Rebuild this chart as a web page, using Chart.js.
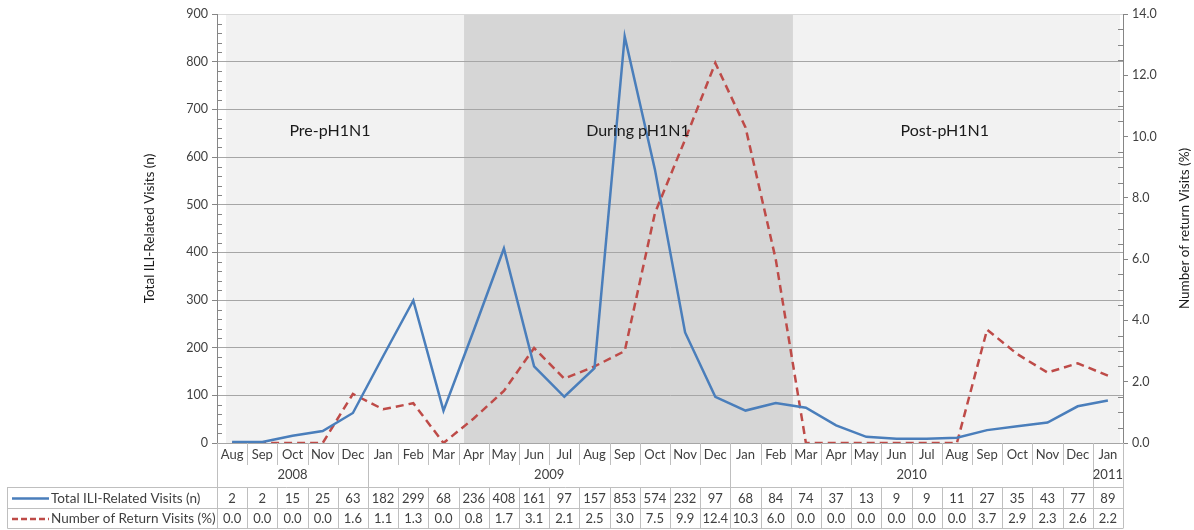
<!DOCTYPE html>
<html>
<head>
<meta charset="utf-8">
<script src="https://cdn.jsdelivr.net/npm/chart.js@4.4.0/dist/chart.umd.min.js"></script>
<style>
  html, body { margin: 0; padding: 0; background: #fff; }
  #wrap { width: 1194px; height: 530px; position: relative; }
</style>
</head>
<body>
<div id="wrap"><canvas id="chart" width="1194" height="530"></canvas></div>
<script>
/* ---------- data ---------- */
const months = ["Aug","Sep","Oct","Nov","Dec","Jan","Feb","Mar","Apr","May","Jun","Jul",
                "Aug","Sep","Oct","Nov","Dec","Jan","Feb","Mar","Apr","May","Jun","Jul",
                "Aug","Sep","Oct","Nov","Dec","Jan"];
const years = ["2008", "2009", "2010", "2011"];
const yearSpans = [5, 12, 12, 1];
const visits = [2, 2, 15, 25, 63, 182, 299, 68, 236, 408, 161, 97, 157, 853, 574, 232, 97,
                68, 84, 74, 37, 13, 9, 9, 11, 27, 35, 43, 77, 89];
const returnVisits = [0.0, 0.0, 0.0, 0.0, 1.6, 1.1, 1.3, 0.0, 0.8, 1.7, 3.1, 2.1, 2.5, 3.0, 7.5,
                      9.9, 12.4, 10.3, 6.0, 0.0, 0.0, 0.0, 0.0, 0.0, 0.0, 3.7, 2.9, 2.3, 2.6, 2.2];
const leftTicks = { min: 0, max: 900, step: 100, minor: 20 };
const rightTicks = { min: 0, max: 14, step: 2, minor: 0.5 };
const seriesNames = ["Total ILI-Related Visits (n)", "Number of Return Visits (%)"];
const axisTitles = ["Total ILI-Related Visits (n)", "Number of return Visits (%)"];
const periods = ["Pre-pH1N1", "During pH1N1", "Post-pH1N1"];

/* ---------- style ---------- */
const FONT = "Lato, 'Open Sans', sans-serif";
const BLUE = "#4a7ebb";
const RED = "#be4b48";
const TEXT = "#404040";
const LINE = "#bfbfbf";
// band edges & label spots in category units (0 = first month centre)
const lightBand = [-0.2, 29.4];
const darkBand = [7.68, 18.57];
const periodSpots = [3.24, 13.44, 23.6];
const periodValue = 654;

/* ---------- plugins ---------- */
function catX(chart, f) {
    const x = chart.scales.x;
    const p0 = x.getPixelForValue(0), p1 = x.getPixelForValue(1);
    return p0 + f * (p1 - p0);
}

const bandPlugin = {
    id: "bands",
    beforeDraw(chart) {
        const { ctx, chartArea: a } = chart;
        ctx.save();
        ctx.fillStyle = "#f2f2f2";
        ctx.fillRect(catX(chart, lightBand[0]), a.top, catX(chart, lightBand[1]) - catX(chart, lightBand[0]), a.bottom - a.top);
        ctx.fillStyle = "#d6d6d6";
        ctx.fillRect(catX(chart, darkBand[0]), a.top, catX(chart, darkBand[1]) - catX(chart, darkBand[0]), a.bottom - a.top);
        ctx.restore();
    },
    afterDatasetsDraw(chart) {
        const { ctx } = chart;
        ctx.save();
        ctx.fillStyle = "#1a1a1a";
        ctx.font = "16px " + FONT;
        ctx.textAlign = "center";
        ctx.textBaseline = "middle";
        const y = chart.scales.y.getPixelForValue(periodValue);
        periods.forEach((p, i) => ctx.fillText(p, catX(chart, periodSpots[i]), y));
        ctx.restore();
    }
};

const tablePlugin = {
    id: "table",
    afterDraw(chart) {
        const { ctx, chartArea: a } = chart;
        const yL = chart.scales.y, yR = chart.scales.y1;
        const n = months.length;
        const step = (a.right - a.left) / n;
        const edge = i => Math.round(a.left + i * step) + 0.5;
        const b = a.bottom;
        const monthBottom = b + 22, tableTop = b + 44, rowMid = b + 65, tableBottom = b + 85, tableLeft = 7.5;

        ctx.save();
        // minor ticks
        ctx.strokeStyle = "#868686";
        ctx.lineWidth = 1;
        ctx.beginPath();
        for (let v = leftTicks.min; v <= leftTicks.max; v += leftTicks.minor) {
            if (v % leftTicks.step === 0) continue;
            const y = Math.round(yL.getPixelForValue(v)) + 0.5;
            ctx.moveTo(a.left, y); ctx.lineTo(a.left + 5, y);
        }
        for (let v = rightTicks.min; v <= rightTicks.max + 1e-9; v += rightTicks.minor) {
            if (Math.abs(v / rightTicks.step - Math.round(v / rightTicks.step)) < 1e-9) continue;
            const y = Math.round(yR.getPixelForValue(v)) + 0.5;
            ctx.moveTo(a.right - 5, y); ctx.lineTo(a.right, y);
        }
        ctx.stroke();

        // right axis title, reading upwards like the left one
        ctx.save();
        ctx.translate(1185, (a.top + a.bottom) / 2);
        ctx.rotate(-Math.PI / 2);
        ctx.fillStyle = "#1a1a1a";
        ctx.font = "13.5px " + FONT;
        ctx.textAlign = "center";
        ctx.textBaseline = "middle";
        ctx.fillText(axisTitles[1], 0, 0);
        ctx.restore();

        // grid of the table
        ctx.strokeStyle = LINE;
        ctx.beginPath();
        const yearEdges = [0];
        yearSpans.forEach(s => yearEdges.push(yearEdges[yearEdges.length - 1] + s));
        for (let i = 0; i <= n; i++) {
            const x = edge(i);
            ctx.moveTo(x, b);
            if (i === 0 || i === n || yearEdges.includes(i)) ctx.lineTo(x, tableBottom);
            else { ctx.lineTo(x, monthBottom); ctx.moveTo(x, tableTop); ctx.lineTo(x, tableBottom); }
        }
        [tableTop, rowMid, tableBottom].forEach(y => { ctx.moveTo(tableLeft, y + 0.5); ctx.lineTo(edge(n), y + 0.5); });
        ctx.moveTo(tableLeft, tableTop); ctx.lineTo(tableLeft, tableBottom + 0.5);
        ctx.stroke();

        // texts
        ctx.fillStyle = TEXT;
        ctx.font = "13px " + FONT;
        ctx.textAlign = "center";
        ctx.textBaseline = "middle";
        months.forEach((m, i) => ctx.fillText(m, a.left + (i + 0.5) * step, b + 12));
        years.forEach((yr, k) => {
            const x = a.left + (yearEdges[k] + yearEdges[k + 1]) / 2 * step;
            ctx.fillText(yr, x, b + 32);
        });
        const r1 = (tableTop + rowMid) / 2 + 1, r2 = (rowMid + tableBottom) / 2 + 1;
        visits.forEach((v, i) => ctx.fillText(String(v), a.left + (i + 0.5) * step, r1));
        returnVisits.forEach((v, i) => ctx.fillText(v.toFixed(1), a.left + (i + 0.5) * step, r2));

        ctx.textAlign = "left";
        ctx.font = "13.5px " + FONT;
        ctx.fillText(seriesNames[0], 51, r1);
        ctx.fillText(seriesNames[1], 51, r2);

        // legend keys
        ctx.lineWidth = 2.5;
        ctx.strokeStyle = BLUE;
        ctx.beginPath(); ctx.moveTo(12, r1); ctx.lineTo(49, r1); ctx.stroke();
        ctx.strokeStyle = RED;
        ctx.setLineDash([6, 3]);
        ctx.beginPath(); ctx.moveTo(12, r2); ctx.lineTo(49, r2); ctx.stroke();
        ctx.restore();
    }
};

/* ---------- chart ---------- */
new Chart(document.getElementById("chart"), {
    type: "line",
    data: {
        labels: months,
        datasets: [
            {
                label: seriesNames[0],
                data: visits,
                yAxisID: "y",
                borderColor: BLUE,
                borderWidth: 2.5,
                pointRadius: 0,
                tension: 0
            },
            {
                label: seriesNames[1],
                data: returnVisits,
                yAxisID: "y1",
                borderColor: RED,
                borderWidth: 2.5,
                borderDash: [8, 5],
                pointRadius: 0,
                tension: 0
            }
        ]
    },
    options: {
        responsive: false,
        animation: false,
        devicePixelRatio: 1,
        layout: { padding: { left: 138, right: 0, top: 14, bottom: 87 } },
        plugins: { legend: { display: false }, tooltip: { enabled: false } },
        scales: {
            x: { type: "category", offset: true, display: false },
            y: {
                position: "left",
                min: leftTicks.min,
                max: leftTicks.max,
                ticks: { stepSize: leftTicks.step, color: TEXT, font: { family: FONT, size: 12.5 }, padding: 4 },
                grid: {
                    color: c => c.tick && c.tick.value === leftTicks.max ? "#d9d9d9" : "#a6a6a6",
                    tickColor: "#868686",
                    tickLength: 5
                },
                border: { color: "#868686" },
                title: { display: true, text: axisTitles[0], color: "#1a1a1a", font: { family: FONT, size: 13.5 } },
                afterFit: s => { s.width = 79; }
            },
            y1: {
                position: "right",
                min: rightTicks.min,
                max: rightTicks.max,
                ticks: { stepSize: rightTicks.step, color: TEXT, font: { family: FONT, size: 12.5 }, padding: 4,
                         callback: v => v.toFixed(1) },
                grid: { drawOnChartArea: false, tickColor: "#868686", tickLength: 5 },
                border: { color: "#868686" },
                afterFit: s => { s.width = 71; }
            }
        }
    },
    plugins: [bandPlugin, tablePlugin]
});
</script>
</body>
</html>
